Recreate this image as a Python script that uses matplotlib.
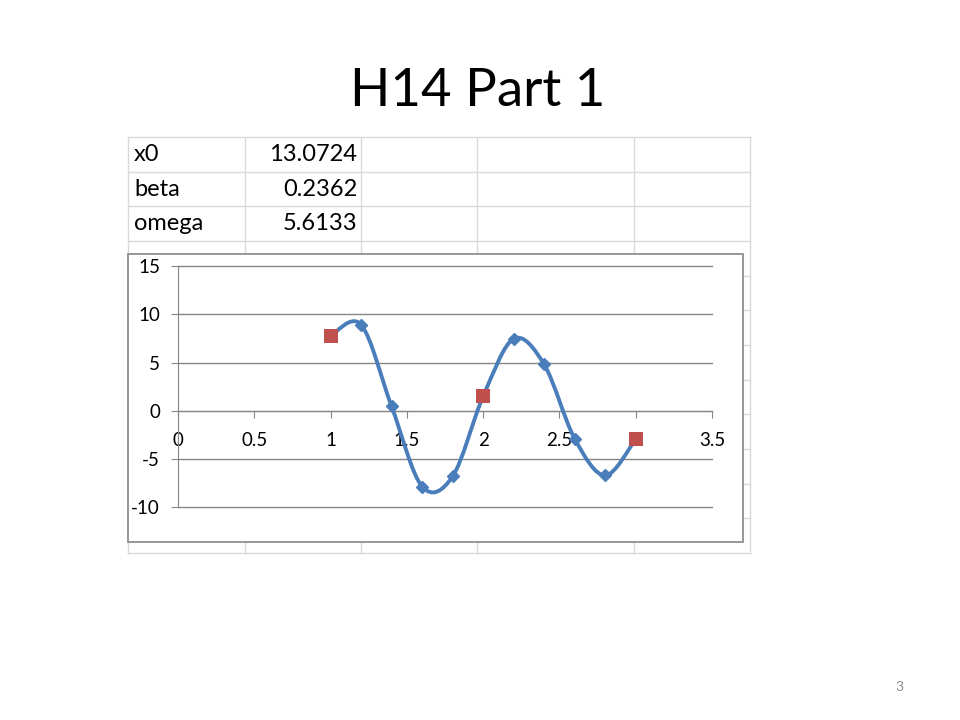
import numpy as np
import matplotlib
matplotlib.use('Agg')
import matplotlib.pyplot as plt
from matplotlib.path import Path
from matplotlib.patches import PathPatch, Rectangle
from matplotlib.lines import Line2D

plt.rcParams['font.family'] = ['Lato', 'DejaVu Sans']
plt.rcParams['axes.unicode_minus'] = False

# spreadsheet cells
param_names = ['x0', 'beta', 'omega']
param_values = ['13.0724', '0.2362', '5.6133']

# fitted series (blue) and measured points (red)
t_fit = np.array([1.0, 1.2, 1.4, 1.6, 1.8, 2.0, 2.2, 2.4, 2.6, 2.8, 3.0])
x_fit = np.array([7.75, 8.92, 0.45, -7.85, -6.8, 1.5, 7.45, 4.8, -2.9, -6.7, -2.92])
t_obs = np.array([1.0, 2.0, 3.0])
x_obs = np.array([7.75, 1.5, -2.92])

xticks = [0, 0.5, 1, 1.5, 2, 2.5, 3, 3.5]
yticks = [-10, -5, 0, 5, 10, 15]

W, H = 960, 720
fig = plt.figure(figsize=(9.6, 7.2), dpi=100)


def fx(px):
    return px / W


def fy(py):
    return 1 - py / H


# title and page number
fig.text(fx(478), fy(91), 'H14 Part 1', fontsize=38, ha='center', va='center')
fig.text(fx(899), fy(687), '3', fontsize=10, color='#8c8c8c', ha='center', va='center')

# spreadsheet grid behind the chart
cols = [128, 245, 361, 477, 634, 750]
rows = [137 + 34.67 * k for k in range(13)]
for c in cols:
    fig.add_artist(Line2D([fx(c), fx(c)], [fy(rows[0]), fy(rows[-1])],
                          transform=fig.transFigure, color='#d9d9d9', lw=1, zorder=-3))
for r in rows:
    fig.add_artist(Line2D([fx(cols[0]), fx(cols[-1])], [fy(r), fy(r)],
                          transform=fig.transFigure, color='#d9d9d9', lw=1, zorder=-3))
for i, (name, val) in enumerate(zip(param_names, param_values)):
    yc = (rows[i] + rows[i + 1]) / 2
    fig.text(fx(134), fy(yc), name, fontsize=17, ha='left', va='center')
    fig.text(fx(357), fy(yc), val, fontsize=17, ha='right', va='center')

# chart area box
fig.add_artist(Rectangle((fx(128), fy(542)), fx(743) - fx(128), fy(254) - fy(542),
                         transform=fig.transFigure, facecolor='white',
                         edgecolor='#8f8f8f', lw=1.3, zorder=-1))

ax = fig.add_axes([fx(178), fy(507.3), fx(712) - fx(178), fy(266) - fy(507.3)])
ax.set_facecolor('none')
ax.set_xlim(0, 3.5)
ax.set_ylim(-10, 15)
ax.set_xticks(xticks)
ax.set_xticklabels(['0', '0.5', '1', '1.5', '2', '2.5', '3', '3.5'])
ax.set_yticks(yticks)
for s in ['top', 'right']:
    ax.spines[s].set_visible(False)
ax.spines['bottom'].set_position(('data', 0))
ax.spines['bottom'].set_color('#868686')
ax.spines['left'].set_color('#868686')
ax.yaxis.grid(True, color='#868686', lw=1)
for gl in ax.get_ygridlines():
    gl.set_clip_on(False)
ax.set_axisbelow(True)
ax.tick_params(axis='x', direction='out', length=5, color='#868686', pad=10, labelsize=13.5)
ax.tick_params(axis='y', direction='out', length=5, color='#868686', pad=8, labelsize=13.5)


def smooth_path(xs, ys):
    pts = np.column_stack([xs, ys])
    n = len(pts)
    verts = [pts[0]]
    codes = [Path.MOVETO]
    for i in range(n - 1):
        p0 = pts[i - 1] if i > 0 else pts[i]
        p1 = pts[i]
        p2 = pts[i + 1]
        p3 = pts[i + 2] if i + 2 < n else pts[i + 1]
        verts += [p1 + (p2 - p0) / 6, p2 - (p3 - p1) / 6, p2]
        codes += [Path.CURVE4] * 3
    return Path(verts, codes)


blue = '#4A7EBB'
ax.add_patch(PathPatch(smooth_path(t_fit, x_fit), fill=False, edgecolor=blue,
                       lw=2.8, capstyle='round', zorder=3))
ax.plot(t_fit, x_fit, 'D', ms=6, color=blue, mew=1, zorder=4, clip_on=False)
ax.plot(t_obs, x_obs, 's', ms=10.5, color='#C0504D', mew=0, zorder=5, clip_on=False)

fig.savefig('out.png', dpi=100)
